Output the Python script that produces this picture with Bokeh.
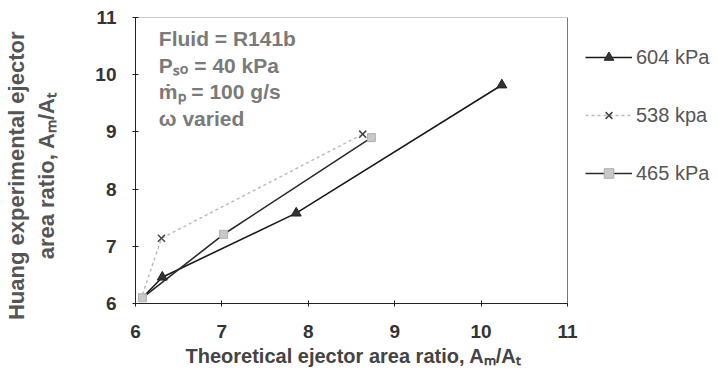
from bokeh.plotting import figure
from bokeh.models import Legend, LegendItem, Label, FixedTicker, Span, Title
from bokeh.embed import file_html
from bokeh.resources import INLINE

# Series: theoretical (x) vs. experimental (y) ejector area ratio
x_604 = [6.08, 6.31, 7.86, 10.24]
y_604 = [6.10, 6.46, 7.58, 9.82]
x_538 = [6.06, 6.30, 8.63]
y_538 = [6.06, 7.14, 8.96]
x_465 = [6.08, 7.02, 8.73]
y_465 = [6.10, 7.21, 8.90]

labels = ["604 kPa", "538 kpa", "465 kPa"]
ticks = [6, 7, 8, 9, 10, 11]
notes = ["Fluid = R141b", "P\u209b\u2092 = 40 kPa", "\u1e41\u209a = 100 g/s", "\u03c9 varied"]
x_title = "Theoretical ejector area ratio, A\u2098/A\u209c"
# trailing no-break spaces nudge the rotated title a little towards the bottom
PAD = "\u00a0" * 5
y_title = "Huang experimental ejector" + PAD + "\narea ratio, A\u2098/A\u209c" + PAD

FONT = "Liberation Sans"
X_MIN, X_MAX, Y_MIN, Y_MAX = 6, 11, 6, 11

# The frame runs on to the right edge so the legend has room beside the box;
# the axis itself stops at 11 and the box is closed with explicit lines.
PX_PER_X = 432 / (X_MAX - X_MIN)
x_view_end = X_MIN + (718 - 135) / PX_PER_X

p = figure(width=718, height=385, x_range=(X_MIN, x_view_end), y_range=(Y_MIN, Y_MAX),
           output_backend="svg", toolbar_location=None,
           min_border_left=135, min_border_right=0,
           min_border_top=17, min_border_bottom=82)
p.grid.visible = False
p.background_fill_color = "white"
p.outline_line_color = None

for ax in (p.xaxis, p.yaxis):
    ax.ticker = FixedTicker(ticks=ticks)
    ax.major_label_text_font = FONT
    ax.major_label_text_font_style = "bold"
    ax.major_label_text_font_size = "19px"
    ax.major_label_text_color = "#333333"
    ax.axis_line_color = "#222222"
    ax.major_tick_line_color = "#222222"
    ax.major_tick_in = 3
    ax.major_tick_out = 3
    ax.minor_tick_line_color = None

p.xaxis.bounds = (X_MIN, X_MAX)
p.xaxis.major_label_standoff = 18
p.yaxis.major_label_standoff = 16

p.yaxis.axis_label = y_title
p.yaxis.axis_label_standoff = 33
p.yaxis.axis_label_text_font = FONT
p.yaxis.axis_label_text_font_size = "22px"
p.yaxis.axis_label_text_font_style = "bold"
p.yaxis.axis_label_text_color = "#555555"

# x title sits under the box rather than centred on the wider frame
p.add_layout(Title(text=x_title, align="left", offset=50, standoff=4,
                   text_font=FONT, text_font_size="20px", text_font_style="bold",
                   text_color="#444444"), "below")

# right and top edges of the plot box
p.add_layout(Span(location=X_MAX, dimension="height", line_color="#777777", line_width=1))
p.segment(x0=[X_MIN], y0=[Y_MAX], x1=[X_MAX], y1=[Y_MAX], line_color="#999999", line_width=1)

r604l = p.line(x_604, y_604, line_color="#1a1a1a", line_width=1.6)
r604m = p.scatter(x_604[1:], y_604[1:], marker="triangle", size=10,
                  fill_color="#333333", line_color="#222222")
r538l = p.line(x_538, y_538, line_color="#b8b8b8", line_width=1.4, line_dash="3 3")
r538m = p.scatter(x_538[1:], y_538[1:], marker="x", size=10,
                  line_color="#444444", line_width=1.5)
r465l = p.line(x_465, y_465, line_color="#2a2a2a", line_width=1.6)
r465m = p.scatter(x_465, y_465, marker="square", size=8,
                  fill_color="#c8c8c8", line_color="#b0b0b0")

legend = Legend(items=[
    LegendItem(label=labels[0], renderers=[r604l, r604m]),
    LegendItem(label=labels[1], renderers=[r538l, r538m]),
    LegendItem(label=labels[2], renderers=[r465l, r465m]),
])
legend.label_text_font = FONT
legend.label_text_font_size = "20px"
legend.label_text_color = "#555555"
legend.glyph_width = 47
legend.glyph_height = 24
legend.label_height = 24
legend.label_standoff = 4
legend.spacing = 34
legend.border_line_color = None
legend.background_fill_alpha = 0
legend.padding = 0
legend.margin = 0
legend.location = (450, 118)
p.add_layout(legend)

for i, t in enumerate(notes):
    p.add_layout(Label(x=6.27, y=10.63 - i * 0.465, text=t, text_font=FONT,
                       text_font_size="21px", text_font_style="bold",
                       text_color="#7a7a7a", text_baseline="middle"))

open("out.html", "w").write(file_html(p, INLINE))
